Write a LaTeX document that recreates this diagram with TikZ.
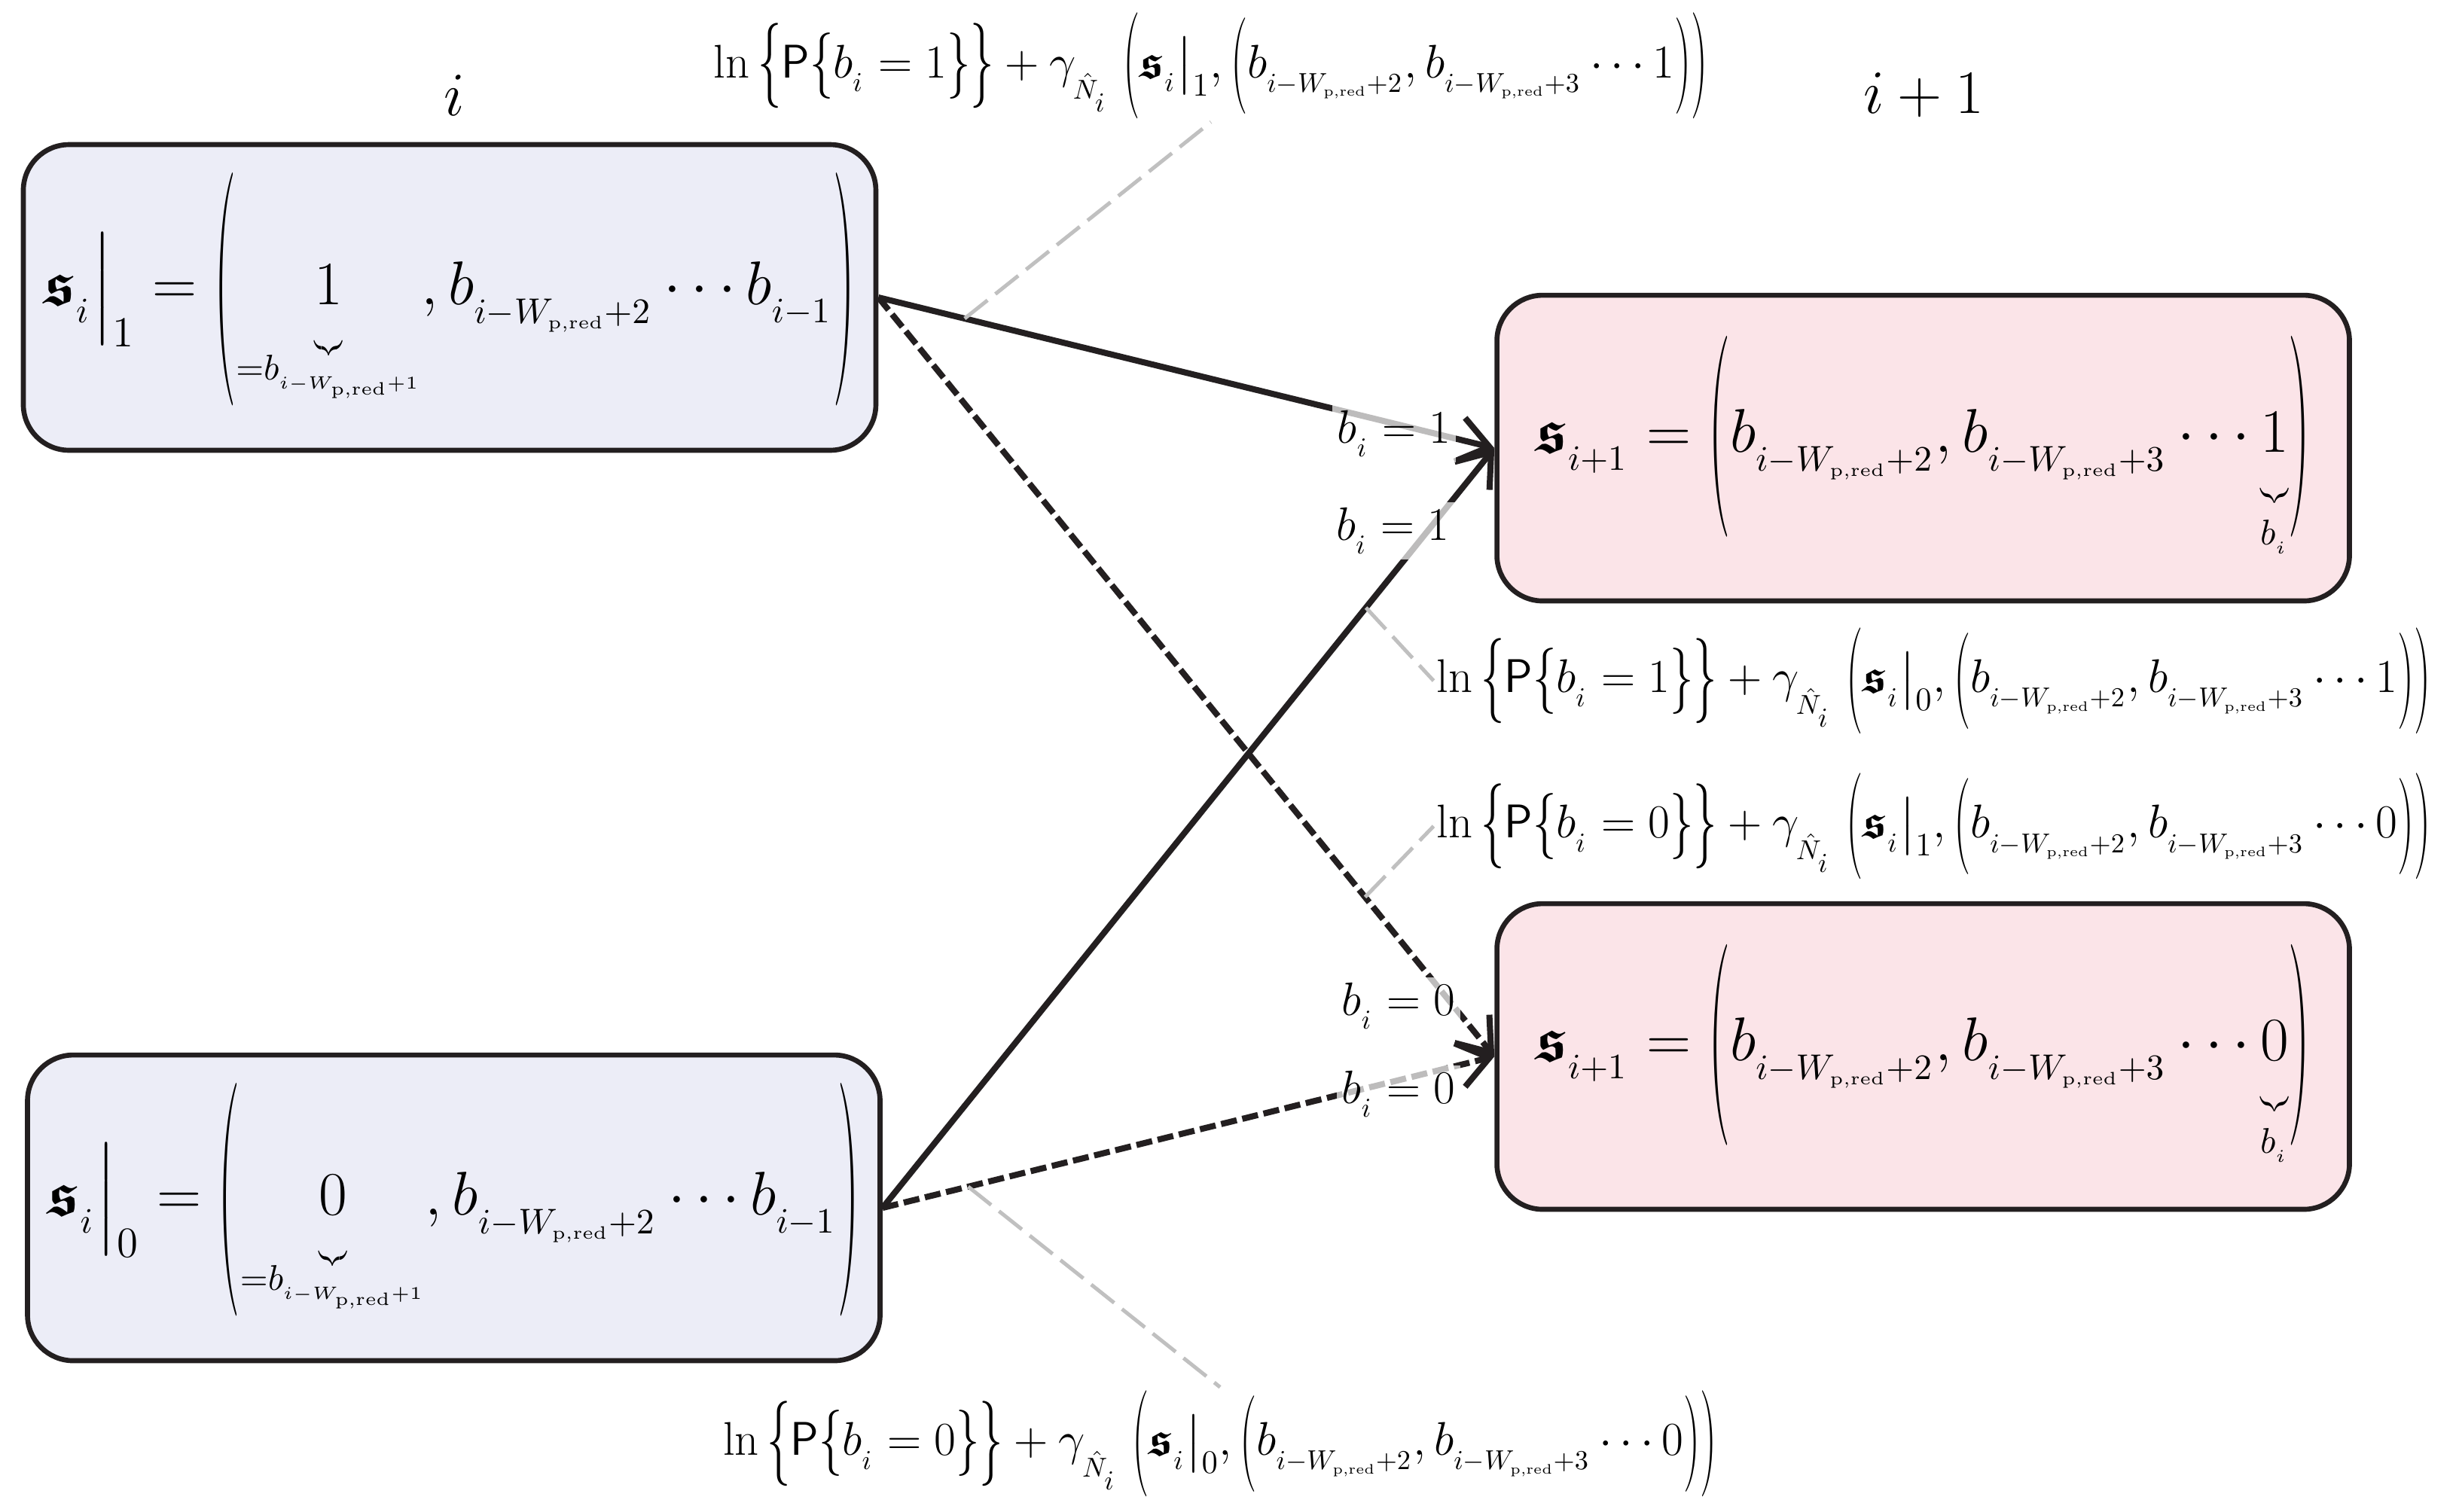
\documentclass[tikz,border=0pt]{standalone}
\definecolor{StateBlue}{RGB}{236, 237, 247}
\definecolor{StatePink}{RGB}{251, 228, 232}
\definecolor{EdgeBlack}{RGB}{35, 31, 32}
\definecolor{HintGray}{RGB}{192, 192, 192}
\usepackage{amsmath, amssymb}
\usepackage{bm}
\usepackage{tikz}
\usetikzlibrary{arrows.meta, positioning}
\newcommand{\sfr}{\bm{\mathfrak{s}}}
\newcommand{\Wp}{W_{\text{\tiny p,red}}}
\newcommand{\tinybrace}{\scalebox{0.25}[0.45]{$\underbrace{\hphantom{1111}}$}}
\newcommand{\braced}[3][0pt]{\underset{\raisebox{#1}[\height][\depth]{\normalsize$#3$}}{\underset{\tinybrace}{#2}}}
\newcommand{\lstretch}[2]{\mathopen{\vcenter{\hbox{\scalebox{1}[#1]{$#2$}}}}}
\newcommand{\rstretch}[2]{\mathclose{\vcenter{\hbox{\scalebox{1}[#1]{$#2$}}}}}

\begin{document}
\begin{tikzpicture}[
    every node/.style={font=\LARGE, align=center},
    statebox/.style={draw=EdgeBlack, line width=1.4pt, rounded corners=0.45cm,
                minimum width=8.385cm, minimum height=3.007cm},
    formula/.style={scale=0.765, transform shape, inner sep=1pt},
    lbl/.style={scale=0.76, transform shape, fill=white, fill opacity=0.7, text opacity=1, inner sep=2pt},
    arr/.style={-{Straight Barb[length=3mm, width=4.4mm]}, EdgeBlack, line width=1.7pt},
    dashline/.style={dash pattern=on 4.5pt off 1.6pt},
    hint/.style={HintGray, line width=1.05pt, dash pattern=on 8.2pt off 2.8pt}
]
\useasboundingbox (0,0) rectangle (24.185,14.867);
\node[statebox, fill=StateBlue] (A) at (4.422,11.941)
    {$\sfr_{_i}\Big|_{1} = \lstretch{3.78}{(}\braced[5pt]{1}{{=}b_{_{i-\Wp+1}}}, b_{_{i-\Wp+2}} \cdots b_{_{i-1}}\rstretch{3.78}{)}$};
\node[statebox, fill=StateBlue] (B) at (4.463,2.985)
    {$\sfr_{_i}\Big|_{0} = \lstretch{3.78}{(}\braced[5pt]{0}{{=}b_{_{i-\Wp+1}}}, b_{_{i-\Wp+2}} \cdots b_{_{i-1}}\rstretch{3.78}{)}$};
\node[statebox, fill=StatePink] (C) at (18.915,10.459)
    {$\sfr_{_{i+1}} = \lstretch{3.26}{(}b_{_{i-\Wp+2}}, b_{_{i-\Wp+3}} \cdots \braced{1}{b_{_i}}\rstretch{3.26}{)}$};
\node[statebox, fill=StatePink] (D) at (18.915,4.474)
    {$\sfr_{_{i+1}} = \lstretch{3.26}{(}b_{_{i-\Wp+2}}, b_{_{i-\Wp+3}} \cdots \braced{0}{b_{_i}}\rstretch{3.26}{)}$};
\node (stepi) at (4.47,13.93) {$i$};
\node (stepj) at (18.92,13.93) {$i+1$};
% branch metrics
\node[formula] (F1) at (11.91,14.22)
    {$\ln\,\lstretch{1.8}{\{}\mathsf{P}\lstretch{1.4}{\{}b_{_i} = 1\rstretch{1.4}{\}}\rstretch{1.8}{\}} + \gamma_{_{\hat{N}_{_i}}}\;\lstretch{2.25}{(}\sfr_{_i}\big|_{1}, \lstretch{2.04}{(}b_{_{i-\Wp+2}}, b_{_{i-\Wp+3}} \cdots 1\rstretch{2.04}{)}\rstretch{2.25}{)}$};
\node[formula, anchor=west] (F2) at (14.10,8.17)
    {$\ln\,\lstretch{1.8}{\{}\mathsf{P}\lstretch{1.4}{\{}b_{_i} = 1\rstretch{1.4}{\}}\rstretch{1.8}{\}} + \gamma_{_{\hat{N}_{_i}}}\;\lstretch{2.25}{(}\sfr_{_i}\big|_{0}, \lstretch{2.04}{(}b_{_{i-\Wp+2}}, b_{_{i-\Wp+3}} \cdots 1\rstretch{2.04}{)}\rstretch{2.25}{)}$};
\node[formula, anchor=west] (F3) at (14.10,6.74)
    {$\ln\,\lstretch{1.8}{\{}\mathsf{P}\lstretch{1.4}{\{}b_{_i} = 0\rstretch{1.4}{\}}\rstretch{1.8}{\}} + \gamma_{_{\hat{N}_{_i}}}\;\lstretch{2.25}{(}\sfr_{_i}\big|_{1}, \lstretch{2.04}{(}b_{_{i-\Wp+2}}, b_{_{i-\Wp+3}} \cdots 0\rstretch{2.04}{)}\rstretch{2.25}{)}$};
\node[formula] (F4) at (12.0,0.667)
    {$\ln\,\lstretch{1.8}{\{}\mathsf{P}\lstretch{1.4}{\{}b_{_i} = 0\rstretch{1.4}{\}}\rstretch{1.8}{\}} + \gamma_{_{\hat{N}_{_i}}}\;\lstretch{2.25}{(}\sfr_{_i}\big|_{0}, \lstretch{2.04}{(}b_{_{i-\Wp+2}}, b_{_{i-\Wp+3}} \cdots 0\rstretch{2.04}{)}\rstretch{2.25}{)}$};
% transitions
\draw[arr] (A.east) -- coordinate[pos=0.14] (h1) (C.west);
\draw[arr, dashline] (A.east) -- coordinate[pos=0.79] (h2) (D.west);
\draw[arr] (B.east) -- coordinate[pos=0.79] (h3) (C.west);
\draw[arr, dashline] (B.east) -- coordinate[pos=0.14] (h4) (D.west);
\draw[hint] (h1) -- (F1.south);
\draw[hint] (h2) -- (F3.west);
\draw[hint] (h3) -- (F2.west);
\draw[hint] (h4) -- (F4.north);
\node[lbl] (L1) at (13.71,10.60) {$b_{_i} = 1$};
\node[lbl] (L2) at (13.70,9.645) {$b_{_i} = 1$};
\node[lbl] (L3) at (13.755,4.97) {$b_{_i} = 0$};
\node[lbl] (L4) at (13.755,4.104) {$b_{_i} = 0$};
\end{tikzpicture}
\end{document}
